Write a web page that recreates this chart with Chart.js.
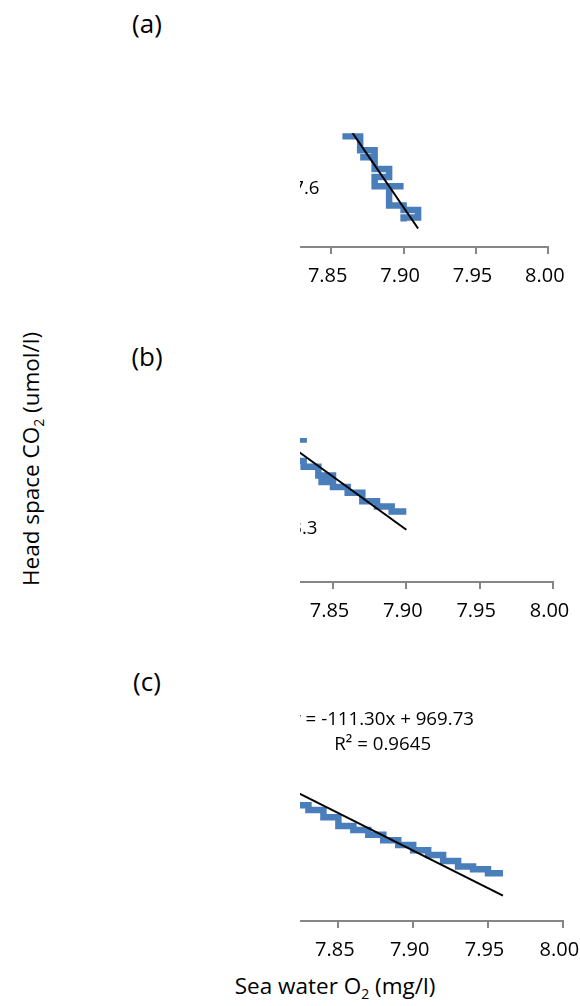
<!DOCTYPE html>
<html>
<head>
<meta charset="utf-8">
<script src="https://cdn.jsdelivr.net/npm/chart.js@4.4.1/dist/chart.umd.min.js"></script>
<style>
  html, body { margin: 0; padding: 0; width: 580px; height: 1006px; overflow: hidden; background: #fff; }
  body { position: relative; font-family: 'Open Sans', sans-serif; color: #000; }
  .panel { position: absolute; left: 300px; width: 280px; overflow: hidden; }
  .panel canvas { position: absolute; top: 0; }
  .tag { position: absolute; font-size: 26px; transform: translate(-50%, -50%); white-space: nowrap; }
  .ytitle { position: absolute; left: 30px; top: 459px; font-size: 22.5px; white-space: nowrap;
            transform: translate(-50%, -50%) rotate(-90deg); }
  .xtitle { position: absolute; left: 335px; top: 985px; font-size: 22.5px; white-space: nowrap;
            transform: translate(-50%, -50%); }
  sub { font-size: 14px; vertical-align: -5px; line-height: 0; }
</style>
</head>
<body>
<div class="tag" style="left:147px;top:23px">(a)</div>
<div class="tag" style="left:147px;top:356px">(b)</div>
<div class="tag" style="left:147px;top:681px">(c)</div>
<div class="ytitle">Head space CO<sub>2</sub> (umol/l)</div>
<div class="xtitle">Sea water O<sub>2</sub> (mg/l)</div>

<script>
// Sea water O2 (mg/l) and head space CO2 (umol/l) readings, panel (a)
const o2A  = [7.86, 7.86, 7.87, 7.87, 7.88, 7.88, 7.87, 7.88, 7.88, 7.89, 7.89, 7.88, 7.88, 7.90, 7.89, 7.89, 7.90, 7.90, 7.91, 7.91, 7.90, 7.90];
const co2A = [105.6, 104.5, 104.5, 102.0, 102.0, 100.8, 100.8, 100.8, 98.7, 98.7, 97.3, 97.3, 95.7, 95.7, 95.7, 92.3, 92.3, 91.5, 91.5, 90.2, 90.2, 89.5];

// panel (b)
const o2B  = [7.83, 7.83, 7.82, 7.82, 7.83, 7.83, 7.84, 7.84, 7.85, 7.85, 7.84, 7.85, 7.85, 7.86, 7.86, 7.87, 7.87, 7.88, 7.88, 7.89, 7.89, 7.90];
const co2B = [100.5, 99.8, 99.8, 96.8, 96.8, 96.0, 96.0, 94.8, 94.8, 93.9, 93.9, 93.9, 93.2, 93.2, 92.4, 92.4, 91.2, 91.2, 90.5, 90.5, 89.8, 89.8];

// panel (c)
const o2C  = [7.82, 7.83, 7.83, 7.84, 7.84, 7.85, 7.85, 7.86, 7.86, 7.87, 7.87, 7.88, 7.88, 7.89, 7.89, 7.90, 7.90, 7.91, 7.91, 7.92, 7.92, 7.93, 7.93, 7.94, 7.94, 7.95, 7.95, 7.96];
const co2C = [97.2, 97.2, 96.5, 96.5, 95.4, 95.4, 94.1, 94.1, 93.5, 93.5, 92.8, 92.8, 92.0, 92.0, 91.3, 91.3, 90.5, 90.5, 89.8, 89.8, 88.9, 88.9, 88.1, 88.1, 87.7, 87.7, 87.1, 87.1];

// linear fits y = slope * x + intercept
const fitSlope     = [-371.6, -147.6, -111.30];
const fitIntercept = [3027.6, 1253.3, 969.73];
const fitDecimals  = [1, 1, 2];
const fitR2        = [0.9712, 0.9538, 0.9645];

// x axis ticks
const xTickValues = [7.85, 7.90, 7.95, 8.00];
const xTickLabels = ['7.85', '7.90', '7.95', '8.00'];

Chart.defaults.font.family = "'Open Sans', sans-serif";

// canvas placement and axis ranges for each panel
const panels = [
  { o2: o2A, co2: co2A, top: 100, left: 114, width: 474, height: 197, padTop: 33.3, padRight: 39.6,
    yMin: 85, yMax: 105, labelRight: 319.5, labelMid: 189 },
  { o2: o2B, co2: co2B, top: 400, left: 113, width: 480, height: 232, padTop: 38, padRight: 40,
    yMin: 80, yMax: 100, labelRight: 317.5, labelMid: 529 },
  { o2: o2C, co2: co2C, top: 680, left: 114, width: 490, height: 291, padTop: 39, padRight: 41.2,
    yMin: 80, yMax: 110, labelRight: 474, labelMid: 720 }
];

const fmtEq = (i) => {
  const d = fitDecimals[i];
  const m = fitSlope[i], b = fitIntercept[i];
  return 'y = ' + m.toFixed(d) + 'x ' + (b < 0 ? '- ' : '+ ') + Math.abs(b).toFixed(d);
};

// trendline equation text, two centred lines
const trendLabel = {
  id: 'trendLabel',
  afterDatasetsDraw(chart, args, opts) {
    const ctx = chart.ctx;
    ctx.save();
    ctx.font = "18.7px 'Open Sans', sans-serif";
    ctx.fillStyle = '#000';
    ctx.textBaseline = 'middle';
    ctx.textAlign = 'center';
    const w1 = ctx.measureText(opts.lines[0]).width;
    const cx = opts.right - w1 / 2;
    opts.lines.forEach((t, k) => ctx.fillText(t, cx, opts.mid + k * 25));
    ctx.restore();
  }
};

panels.forEach((p, i) => {
  const wrap = document.createElement('div');
  wrap.className = 'panel';
  wrap.style.top = p.top + 'px';
  wrap.style.height = p.height + 'px';
  const cv = document.createElement('canvas');
  cv.width = p.width; cv.height = p.height;
  cv.style.width = p.width + 'px'; cv.style.height = p.height + 'px';
  cv.style.left = (p.left - 300) + 'px';
  wrap.appendChild(cv);
  document.body.appendChild(wrap);

  const pts = p.o2.map((x, k) => ({ x: x, y: p.co2[k] }));
  const xLo = Math.min(...p.o2), xHi = Math.max(...p.o2);
  const fit = [xLo, xHi].map(x => ({ x: x, y: fitSlope[i] * x + fitIntercept[i] }));

  new Chart(cv, {
    type: 'scatter',
    data: {
      datasets: [
        { data: fit, showLine: true, borderColor: '#000', borderWidth: 2, pointRadius: 0, clip: 0 },
        { data: pts, showLine: true, borderColor: '#4a7ebb', borderWidth: 6.5, pointRadius: 0,
          borderCapStyle: 'butt', borderJoinStyle: 'miter', tension: 0, clip: 0 }
      ]
    },
    options: {
      responsive: false,
      animation: false,
      events: [],
      layout: { padding: { left: 0, right: p.padRight, top: p.padTop, bottom: 0 } },
      plugins: {
        legend: { display: false },
        tooltip: { enabled: false },
        trendLabel: {
          lines: [fmtEq(i), 'R\u00b2 = ' + fitR2[i].toFixed(4)],
          right: p.labelRight - p.left,
          mid: p.labelMid - p.top
        }
      },
      scales: {
        x: {
          type: 'linear', min: 7.70, max: 8.00,
          afterBuildTicks: s => { s.ticks = xTickValues.map(v => ({ value: v })); },
          afterFit: s => { s.height = 50; },
          ticks: {
            autoSkip: false, maxRotation: 0, padding: 10, labelOffset: -3.5, color: '#000',
            font: { size: 20 },
            callback: (v, idx) => xTickLabels[idx]
          },
          grid: { drawOnChartArea: false, drawTicks: true, tickLength: 7, color: '#868686', lineWidth: 2 },
          border: { display: true, color: '#868686', width: 2 }
        },
        y: { display: false, min: p.yMin, max: p.yMax }
      }
    },
    plugins: [trendLabel]
  });
});
</script>
</body>
</html>
